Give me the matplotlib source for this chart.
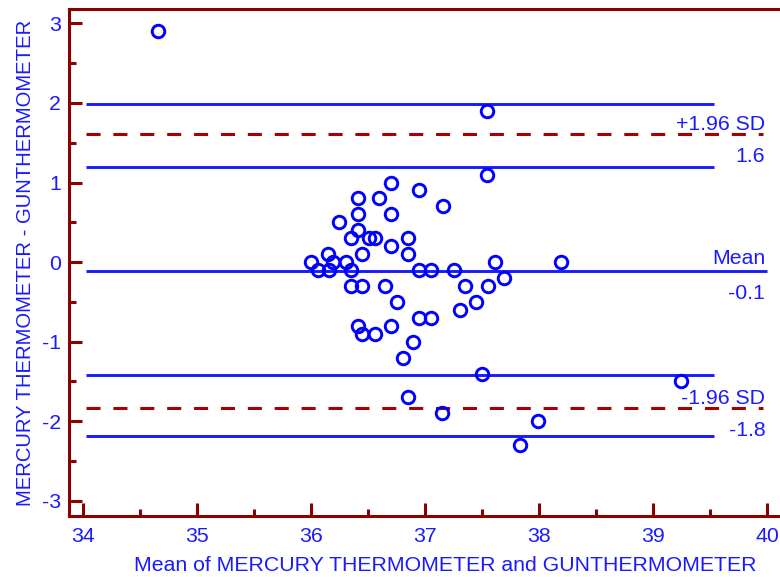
import matplotlib.pyplot as plt
import numpy as np

# Bland-Altman: mean of the two thermometers vs their difference
mean_vals = [34.66, 37.54, 37.54, 36.70, 36.95, 37.16, 36.41, 36.60, 36.41, 36.70,
             36.25, 36.41, 36.51, 36.35, 36.56, 36.85, 36.70, 36.85, 36.45, 36.15,
             36.00, 36.19, 36.31, 37.61, 38.19, 36.06, 36.16, 36.35, 36.95, 37.05,
             37.25, 37.69, 36.35, 36.45, 36.65, 37.35, 37.55, 36.75, 37.45, 37.31,
             36.95, 37.05, 36.41, 36.70, 36.45, 36.56, 36.89, 36.81, 37.50, 39.24,
             36.85, 37.15, 37.99, 37.83]
diff_vals = [2.9, 1.9, 1.1, 1.0, 0.9, 0.7, 0.8, 0.8, 0.6, 0.6,
             0.5, 0.4, 0.3, 0.3, 0.3, 0.3, 0.2, 0.1, 0.1, 0.1,
             0.0, 0.0, 0.0, 0.0, 0.0, -0.1, -0.1, -0.1, -0.1, -0.1,
             -0.1, -0.2, -0.3, -0.3, -0.3, -0.3, -0.3, -0.5, -0.5, -0.6,
             -0.7, -0.7, -0.8, -0.8, -0.9, -0.9, -1.0, -1.2, -1.4, -1.5,
             -1.7, -1.9, -2.0, -2.3]

bias = -0.11
upper_loa = 1.61
lower_loa = -1.83
upper_ci = [1.99, 1.20]
lower_ci = [-1.42, -2.19]

BLUE = '#0000FF'
LBLUE = '#1A1AFF'
DRED = '#8B0000'
RED = '#A80000'

plt.rcParams['font.family'] = ['Liberation Sans', 'DejaVu Sans']
plt.rcParams['axes.unicode_minus'] = False

fig = plt.figure(figsize=(7.8, 5.77), dpi=100)
ax = fig.add_axes([69/780, 1-516/577, 711/780, 507/577])

for yv in upper_ci + lower_ci:
    ax.plot([34.03, 39.53], [yv, yv], color=LBLUE, lw=2.1, solid_capstyle='butt')
ax.plot([34.03, 40.0], [bias, bias], color=LBLUE, lw=2.1, solid_capstyle='butt')
for yv in [upper_loa, lower_loa]:
    ax.plot([34.03, 39.96], [yv, yv], color=RED, lw=2.2, dashes=(4.6, 4.2))

ax.plot(mean_vals, diff_vals, linestyle='none', marker='o', ms=9, mew=2.1,
        mfc='none', mec=BLUE, zorder=5)

fs = 15.3
xr = 39.98
ax.text(xr, upper_loa + 0.0, '+1.96 SD', ha='right', va='bottom', color=LBLUE, fontsize=fs)
ax.text(xr, upper_loa - 0.17, '%.1f' % upper_loa, ha='right', va='top', color=LBLUE, fontsize=fs)
ax.text(xr, bias + 0.04, 'Mean', ha='right', va='bottom', color=LBLUE, fontsize=fs)
ax.text(xr, bias - 0.17, '%.1f' % bias, ha='right', va='top', color=LBLUE, fontsize=fs)
ax.text(xr, lower_loa + 0.0, '-1.96 SD', ha='right', va='bottom', color=LBLUE, fontsize=fs)
ax.text(xr, lower_loa - 0.17, '%.1f' % lower_loa, ha='right', va='top', color=LBLUE, fontsize=fs)

ax.set_xlim(33.88, 40.11)
ax.set_ylim(-3.19, 3.18)
ax.set_xticks(np.arange(34, 41, 1))
ax.set_xticks(np.arange(34.5, 40, 1), minor=True)
ax.set_yticks(np.arange(-3, 4, 1))
ax.set_yticks(np.arange(-2.5, 3, 1), minor=True)

ax.spines['right'].set_visible(False)
for s in ['left', 'bottom', 'top']:
    ax.spines[s].set_color(DRED)
    ax.spines[s].set_linewidth(2.2)
ax.tick_params(which='both', direction='in', color=DRED, width=2.2,
               labelcolor=LBLUE, labelsize=fs, top=False, right=False)
ax.tick_params(which='major', length=9.5)
ax.tick_params(which='minor', length=5)
ax.tick_params(axis='x', which='major', pad=8)
ax.tick_params(axis='y', which='major', pad=6)

ax.set_xlabel('Mean of MERCURY THERMOMETER and GUNTHERMOMETER', color=LBLUE, fontsize=fs)
ax.set_ylabel('MERCURY THERMOMETER - GUNTHERMOMETER', color=LBLUE, fontsize=14.6)
ax.xaxis.set_label_coords(376/711, -0.079)
ax.yaxis.set_label_coords(-0.048, 0.5)

plt.savefig('out.png', dpi=100)
